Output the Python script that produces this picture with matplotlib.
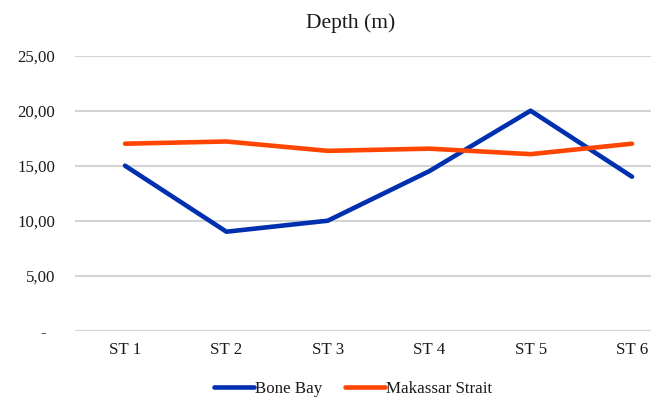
import matplotlib.pyplot as plt
from matplotlib.ticker import FuncFormatter

stations = ["ST 1", "ST 2", "ST 3", "ST 4", "ST 5", "ST 6"]
bone_bay = [15.0, 9.0, 10.0, 14.5, 20.0, 14.0]
makassar = [17.0, 17.2, 16.35, 16.55, 16.05, 17.0]
y_ticks = [0, 5, 10, 15, 20, 25]

plt.rcParams['font.family'] = ['Liberation Serif', 'DejaVu Serif']

fig = plt.figure(figsize=(6.61, 4.01), dpi=100)
ax = fig.add_axes([75 / 661, 1 - 330.7 / 401, 576 / 661, 275 / 401])

x = list(range(len(stations)))
ax.plot(x, bone_bay, color='#0030B0', lw=3.3, solid_capstyle='round',
        solid_joinstyle='round', label="Bone Bay", zorder=3)
ax.plot(x, makassar, color='#FF4500', lw=3.3, solid_capstyle='round',
        solid_joinstyle='round', label="Makassar Strait", zorder=3)

ax.set_ylim(0, 25)
ax.set_xlim((75 - 125) / 101.4, (651 - 125) / 101.4)
ax.set_yticks(y_ticks)
# accounting style: comma decimals, dash for zero
ax.yaxis.set_major_formatter(
    FuncFormatter(lambda v, p: "-  " if v == 0 else f"{v:.2f}".replace(".", ",")))
ax.set_xticks(x)
ax.set_xticklabels(stations)
ax.tick_params(axis='y', length=0, pad=14.4, labelsize=12.2, labelcolor='#1a1a1a')
ax.tick_params(axis='x', length=0, pad=8, labelsize=12.2, labelcolor='#1a1a1a')
ax.grid(axis='y', color='#D4D4D4', lw=1.5)
ax.set_axisbelow(True)
for s in ax.spines.values():
    s.set_visible(False)

fig.text(351 / 661, 1 - 28 / 401, "Depth (m)", ha='center', va='baseline',
         fontsize=15.5, color='#1a1a1a')

fig.legend(loc='center', bbox_to_anchor=(353 / 661, 1 - 389 / 401), ncol=2,
           frameon=False, fontsize=12.2, handlelength=2.4, handletextpad=0.05,
           columnspacing=1.3, labelcolor='#1a1a1a')

fig.savefig("out.png", dpi=100)
